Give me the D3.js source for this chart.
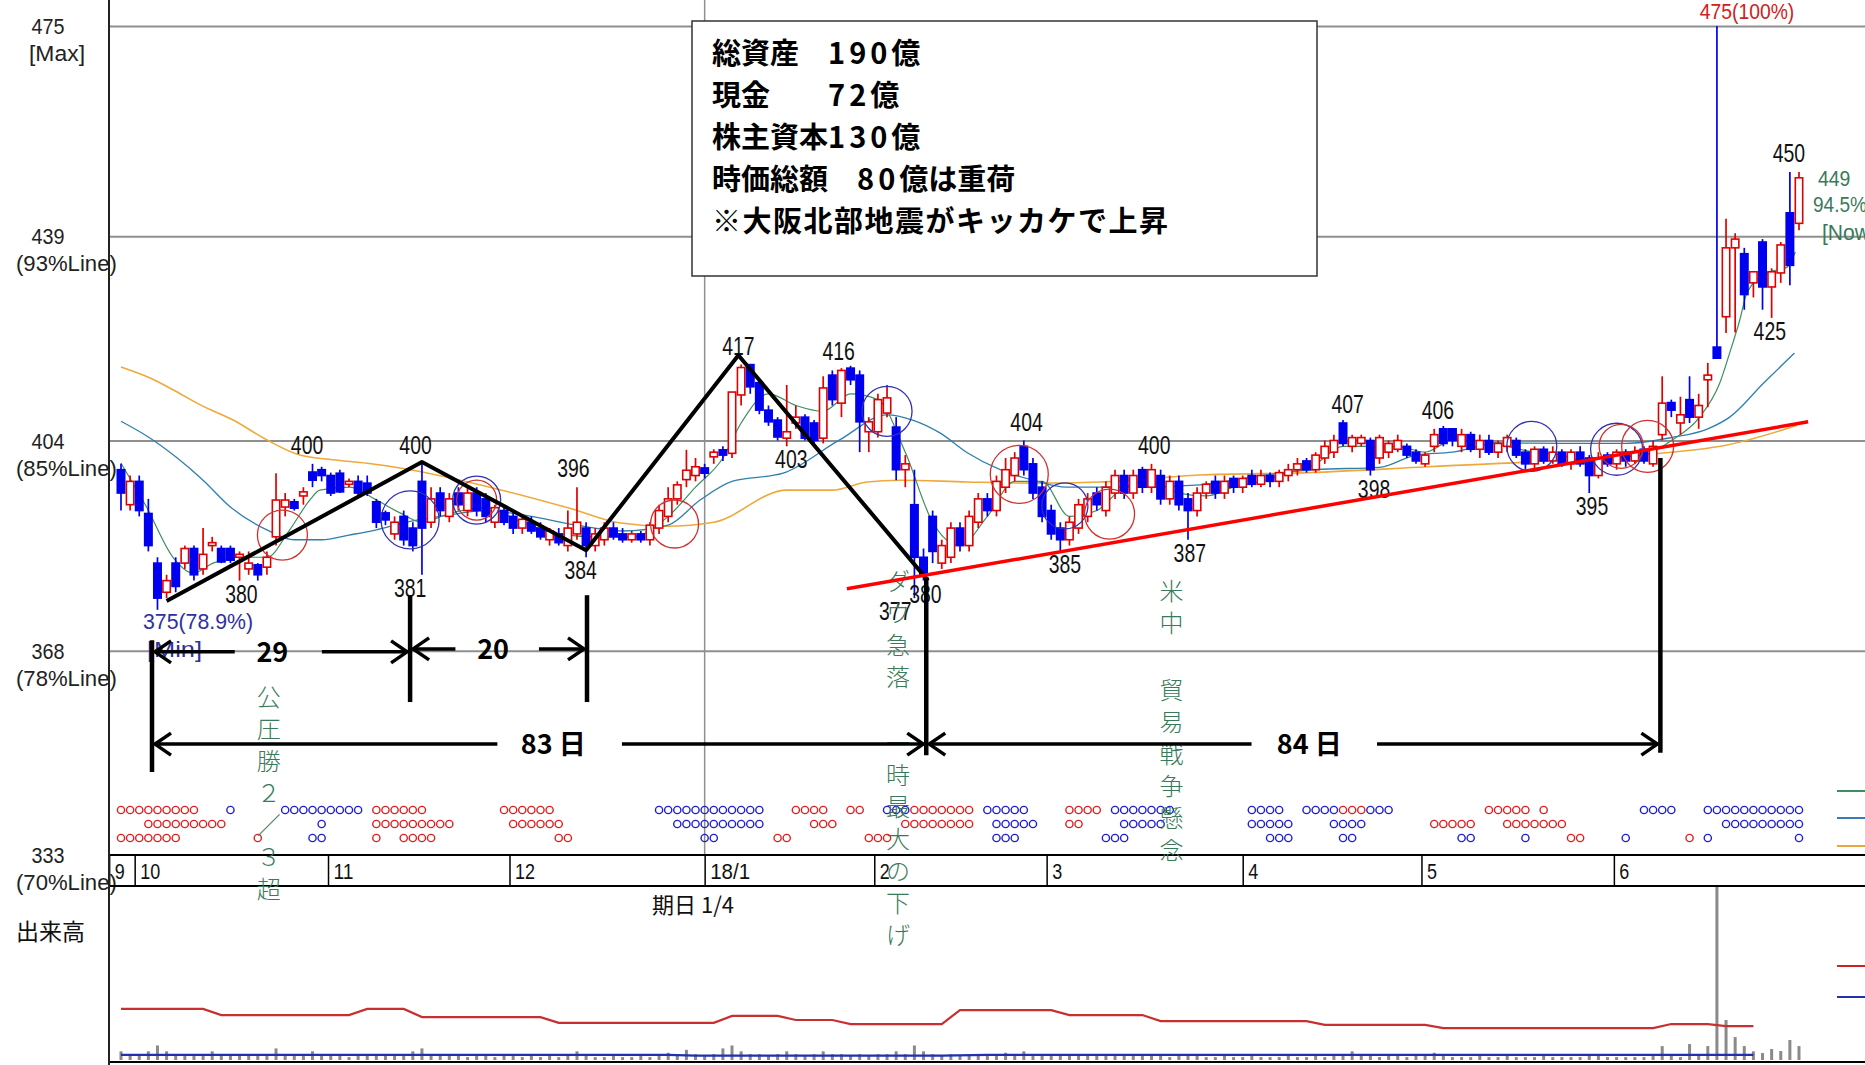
<!DOCTYPE html>
<html>
<head>
<meta charset="utf-8">
<script src="https://cdn.jsdelivr.net/npm/d3@7"></script>
<style>
  body { margin: 0; background: #fff; }
  text { font-family: "Liberation Sans", "DejaVu Sans", sans-serif; }
  .jp { font-family: "Noto Sans CJK JP", sans-serif; }
</style>
</head>
<body>
<svg id="chart" width="1865" height="1065"></svg>
<script>
// ---- データ (日足: 2017/9末 〜 2018/6末) ----
const dayOpen = [
  399,393,397,391.5,383,378,383,383,385.5,382,
  386,385.5,385.5,384,382,382.7,382.3,387.5,392.6,393.5,
  394.5,398.6,399,398,398.4,396.5,397,396.7,393.5,391.6,
  388,391,389,397,390,395,391,395,392,395,
  394,390,392,391,389,390,389,387,388,386,
  388,389,386,387,389,388,387,388,387,389,
  391,394,397.3,398,399.3,401.2,402.4,401.8,411.8,417,
  413.9,409.2,407.5,404.4,407,408,407,404.4,415.2,410.4,
  416.4,415.2,405.5,405.5,408.7,406.3,399,393,384,391,
  383,384,389,386,390,394,392,396,398,403,
  400,396,392,389,387,389,391,395,392,395,
  398,395,399,396,398,394,397,394,392,395,
  397,395,397.5,396,398,396.5,398,397,398,399,
  400.5,399,401,402,407,403,403.5,404,401,402,
  402.5,403,402,400,403,406,406,403,405,402.5,
  404,402,403,404,402,400,402.5,400.5,402,400,
  402,401,398,401.5,400,402,400.5,402.5,400,405,
  410.5,407,411,408,414.4,420,425.2,437,436,431,
  438,430.3,432.7,443,441.2
];
const dayHigh = [
  400,398,398,394,384,381,384,386,386,389,
  387.5,386,386,385,385,383,385,398.4,395,394,
  396,400,399.5,398.5,399,397.5,398,398,394,392,
  391,392,390,400,396,396,395,396,396,396,
  395,393,393,392,391,391,390,389,389,392,
  396,390,389,390,390,389,388.5,388.5,390,393,
  396,397,402.4,401,400,402.5,403,412.3,417,417,
  414.5,410,408,413.5,410,408.5,407.5,415,416,416.4,
  416.8,416,408,412,413.5,408,401.5,399,385.5,392,
  387,390,390,392,395,395,398,401,402,404,
  401,397,393,390,391,394,395,396,397,399,
  399,399,399.5,400,399,398,398,395,396,397,
  398,398,398,398,399,399,398.5,399,400,401,
  401,402,404,405,407.5,405,405,404.5,405,404,
  405,403.5,402.5,402,406,406.5,406,406,405.5,405,
  405,404,405,404.5,402.5,403,403,403,402.5,402.5,
  403,401.5,402,402,402.5,402.5,403,403,404,415,
  411,411.5,415,412,417.3,475,442,439.5,437,433,
  438.5,433.5,438,450,450
];
const dayLow = [
  392,392,391,385,375,377,378,382,380,381,
  385,383,383,380,381,380,381,386,391,392,
  393,396,397,394.5,395,396,394.5,394.5,389,389.5,
  387,386,385,381,389,391,390,392,391,391,
  390,389,389.5,388,388,388,387,386,386,385,
  387,384,385,386,387,386.5,386.5,386.5,386,388,
  390,393,396,397,397.5,400,400.5,401,410,412,
  408.5,406.5,404,403,406,404,403,403.5,410,408,
  413.5,402,402,404.5,408,397.2,396,377,380,383,
  382,383,385,385,389,391,391,395,397,398,
  394,390,387,385,386,388,390,392,391,394,
  394,394,395,395,393,393,392,387,391,394,
  394,394,395,395,396,396,396,396,397,398,
  398.5,398.5,400,401,403,402,403,398,400,401,
  402,401,400,399.5,402,403,403,402,402,401,
  401.5,401,402,401,399,399,400,400,399.5,399,
  399.5,395,397.5,399.5,399,399.5,400,400,399.5,404,
  408,405,407,406,409.7,418,422.4,422.5,426.4,428.5,
  426.4,425,431,430.6,440
];
const dayClose = [
  395,397,392,386,377,380,379,385.5,381,384.5,
  386.5,383.2,383.5,384.5,383,381,384,393.8,393.8,392.4,
  395.2,397.2,398,395,395.2,397,395,395,390,390.4,
  390,387,386,389,394,392,394,393,395,392,
  391,392.5,390,389,390.5,388.5,387.5,388.5,386.5,389,
  390,386,388,389,387.5,387,388,387,389.5,392,
  394,396.4,398.9,399.5,398.4,402,401.5,412.3,416.5,413.2,
  409.2,407.2,404.6,405.5,408,404.4,404,413,411,416,
  414.4,407.2,407.2,411,411.3,399,400,384,381,385,
  386,389,386,391,394,392,397,399,401,399,
  395,391,388,387,390,393,394,393,396,398,
  395,398,396,399,394,397,393,392,395,396.5,
  395,397,396,397.5,396.5,398,397,398.5,399,400,
  399,401.5,403,404,403.5,404.5,404.5,399,404.5,403.5,
  404,401.5,400.5,401.5,405,403.5,404,405,402.5,404,
  402,403.5,404.5,401.5,400,402.5,400.5,402,400,402,
  400,398,401,400,402,400.5,402,400.5,403,410.4,
  409.2,408.4,408,410,415.2,418.1,437,438.5,429,432.9,
  430.3,432.9,437.5,434,449
];
// 出来高 (千株)
const volume = [
  3,2,2,3,5,3,2,2,1.5,2,
  3,2,1.5,2,2,1.5,2,4,2,1.5,
  2,3,2,1.5,1.5,1,1.5,2,2,1.5,
  1.5,2,3,4,2,2,1.5,1.5,1,1.5,
  1.5,1,1.5,1.5,1,1.5,1,1.5,1,2,
  3,1.5,1,1,1.5,1,1,1.5,1,2,
  2.5,2,3.5,2,1.5,2,4,5,3,2,
  2,1.5,2,3,2,1.5,2,3,2,2,
  1.5,2,1.5,2,2,3,2,5,3,2,
  1.5,2,1.5,1.5,2,1.5,2,2.5,2,3,
  2,1.5,2,2,1.5,1.5,2,1.5,2,2,
  1.5,1.5,2,1.5,1.5,1,1.5,2,1.5,1,
  1,1.5,1,1,1.5,1,1,1,1.5,1,
  1,1.5,1,2,2,3,2,1.5,1,1.5,
  1.5,1,1.5,2,2.5,1.5,1,1,1,1.5,
  1,1,1.5,1,1,1,1.5,1,1,1,
  1,2,1.5,1,1,1,1,1,1.5,4.8,
  1.5,1,5.5,2,4.8,70,13.8,7.9,4.8,3,
  2.4,3.8,3.1,6.9,4.8
];
// 出来高の線 (赤・青)
const volRedIdx = [0,9,11,25,27,31,33,46,48,65,67,72,74,78,80,90,92,102,104,112,114,130,132,143,145,168,170,174,176,179];
const volRedVal = [17.6,17.6,15.5,15.5,17.6,17.6,14.8,14.8,12.8,12.8,15.2,15.2,13.8,13.8,12.4,12.4,17.2,17.2,15.5,15.5,13.4,13.4,12.1,12.1,11,11,12.4,12.4,11.7,11.7];
const volBlueIdx = [0,60,63,90,95,179];
const volBlueVal = [1.8,1.8,1.5,1.5,1.8,1.8];

// 移動平均 (画面から読み取り)
const ma5Idx = [0,2.8,5.7,7.9,10.1,13,16,18.5,20.7,21.8,25.1,28,30.6,33,36,40,44,48,52,56,60,63,66,68,71,74,77,80,83,86,89,92,95,98,101,104,107,110,113,116,119,122,125,128,131,134,137,140,143,146,149,152,155,158,161,164,167,170,173.1,175.3,176.4,177.5,178.3,180.5,182.7,183.6];
const ma5Val = [400.1,392.6,384,381.3,383,384,384,388.7,393.8,395.5,396,393.8,391.6,390,391.5,392.5,390,388,387.5,387.5,391,396,401,407,412,410,409,412,411,402,390,386,391,397,397,391,392,396,397,395,394.5,396,397,398.5,400,403,403,403,402,404,404,403,402,401.5,400,401,401.5,404,408,413.8,419,424.6,429.3,432.7,433.7,436.3];
const ma25Idx = [0,3,6,9,12,16,19,22,25,28,31,35,40,45,50,55,60,63.5,67,72.6,78.8,84,86.8,89.8,92.8,96.4,100,103.7,111,118.3,125,131,138,142,146,151,158,165,170,174,176.4,180.1,183.5];
const ma25Val = [407.3,404.6,401.2,397.2,392.6,388.7,387,387,387.8,388.7,389.9,391,392,391,389.5,388.5,389.5,393.8,397,398.4,404.1,408.4,407.5,405.3,401.9,399,397.2,396,396,396.4,398,399,399.4,401.5,402,403.6,403.5,403.5,404.5,406,408,413.8,419];
const ma75Idx = [0,3.2,5.7,8.7,12.3,16,19.6,23.2,27,30.6,42,49.4,54.6,59.8,65,73,78,81.8,85.4,92.8,100,107.3,118.3,130.3,143.3,156.4,169.4,176,183.8];
const ma75Val = [416.6,414.7,412.7,410.1,407.5,404.1,401.5,400.7,400.1,399.3,395.4,392.3,389.9,389.3,390,395.5,395.5,396.9,397.2,396.9,396.7,396.9,398.1,398.5,399.5,400.5,401.9,403.2,406.6];

// 価格ライン・月
const priceLevels = [333, 368, 404, 439, 475];
const levelNotes = ["(70%Line)", "(78%Line)", "(85%Line)", "(93%Line)", "[Max]"];
const monthStart = [-1.3, 1.5, 22.7, 42.6, 64.0, 82.6, 101.5, 123, 142.6, 163.7];
const monthLabel = ["9", "10", "11", "12", "18/1", "2", "3", "4", "5", "6"];

// 高値・安値ラベル
const peakText = ["400","380","400","381","396","384","417","416","403","377","380","404","385","400","387","407","398","406","395","450","425"];
const peakIdx  = [20.4,13.2,32.3,31.7,49.6,50.4,67.7,78.7,73.5,84.9,88.2,99.3,103.5,113.3,117.2,134.5,137.4,144.4,161.3,182.9,180.8];
const peakPrice= [400,380,400,381,396,384,417,416,403,377,380,404,385,400,387,407,398,406,395,450,425];
const peakSide = ["h","l","h","l","h","l","h","h","l","l","l","h","l","h","l","h","l","h","l","h","l"];

// シグナル (3段の丸印) [開始, 終了, 色]
const dotRow1 = [[0,8,"r"],[12,12,"b"],[18,26,"b"],[28,33,"r"],[42,47,"r"],[59,70,"b"],[74,77,"r"],[80,81,"r"],[84,86,"b"],[87,93,"r"],[95,99,"b"],[104,107,"r"],[109,115,"b"],[124,127,"b"],[130,133,"b"],[134,136,"r"],[137,139,"b"],[150,154,"r"],[156,156,"r"],[167,170,"b"],[174,184,"b"]];
const dotRow2 = [[3,11,"r"],[22,22,"b"],[28,36,"r"],[43,48,"r"],[61,70,"b"],[76,78,"r"],[86,93,"r"],[96,100,"b"],[104,105,"r"],[110,114,"b"],[124,128,"b"],[133,136,"b"],[144,148,"r"],[152,158,"r"],[176,184,"b"]];
const dotRow3 = [[0,6,"r"],[15,15,"r"],[21,22,"b"],[28,28,"r"],[31,34,"r"],[48,49,"r"],[64,65,"b"],[72,73,"r"],[82,84,"r"],[96,98,"b"],[108,110,"b"],[126,128,"b"],[134,135,"b"],[147,148,"b"],[154,154,"b"],[159,160,"r"],[165,165,"b"],[172,172,"r"],[174,174,"b"],[184,184,"b"]];

// 円 (日, 価格, 色, 半径)
const ringIdx   = [17.7,31.7,39,39,60.7,84,98.5,103.5,108.4,154.7,164,164.5,167.4];
const ringPrice = [387.8,390.4,393.8,393.8,389.7,409,398.2,392.8,391.4,403,402.5,403,403];
const ringColor = ["r","b","b","r","r","b","r","b","r","b","b","r","r"];
const ringR     = [25,29,24,20,24,25,29,23,25,25,26,22,26];

// 手書きの線
const zigzag = [[5,376.5],[33,400.3],[51,385.2],[67.7,418.6],[88.5,380]];
const trend = [[79.6,378.6],[185,407.2]];
const markIdx = [3.4, 31.7, 51.1, 88.3, 168.8];
const markTop = [369.8, 377.5, 377.5, 380.6, 401];
const markBot = [347.2, 359.2, 359.2, 350.1, 350.5];
const spans = [
  {from: 3.4, to: 31.7, p: 367.8, label: "29", gap: [12.8, 21.7], at: 16.6},
  {from: 31.7, to: 51.1, p: 368.3, label: "20", gap: [37.0, 45.5], at: 40.8},
  {from: 3.4, to: 88.3, p: 352, label: "83 日", gap: [41.6, 54.6], at: 47.4},
  {from: 88.3, to: 168.8, p: 352, label: "84 日", gap: [124.3, 137.4], at: 130.3}
];
// メモ: [文字, 数字, 後ろの文字]
const memoHead = ["総資産　", "現金　　", "株主資本", "時価総額　", "※大阪北部地震がキッカケで上昇"];
const memoNum  = ["190", "72", "130", "80", ""];
const memoTail = ["億", "億", "億", "億は重荷", ""];
const events = [
  {chars: "公圧勝２／３超", i: 16.2, p: 360.0},
  {chars: "ダウ急落", i: 85.2, p: 379.9},
  {chars: "一時最大の下げ", i: 85.2, p: 352.2},
  {chars: "米中", i: 115.2, p: 378.2},
  {chars: "貿易戦争懸念", i: 115.2, p: 361.3}
];

// ---- 描画 ----
const W = 1865, H = 1065, left = 109;
const svg = d3.select("#chart");
const x = d3.scaleLinear().domain([0, 184]).range([121, 1799]);
const y = d3.scaleLinear().domain([333, 475]).range([855, 26]);
const yv = d3.scaleLinear().domain([0, 60]).range([1060, 886]);
const RED = "#e00000", BLUE = "#0000f0";

function narrow(sel, cw) {
  sel.each(function () {
    const t = d3.select(this);
    t.attr("textLength", t.text().length * cw).attr("lengthAdjust", "spacingAndGlyphs");
  });
}

// 横の罫線
svg.append("g")
  .attr("transform", `translate(${left},0)`)
  .call(d3.axisRight(y).tickValues(priceLevels.slice(1)).tickSize(W - left).tickFormat(""))
  .call(g => g.select(".domain").remove())
  .selectAll("line").attr("stroke", "#8f8f8f").attr("stroke-width", 2);

// 年の区切り
svg.append("line")
  .attr("x1", x(monthStart[4])).attr("x2", x(monthStart[4]))
  .attr("y1", 0).attr("y2", 855)
  .attr("stroke", "#8f8f8f").attr("stroke-width", 1.5);

// 左の目盛ラベル
priceLevels.forEach((v, k) => {
  svg.append("text").attr("x", 48).attr("y", y(v) + 8)
    .attr("text-anchor", "middle").attr("font-size", 22).attr("fill", "#222")
    .text(v).call(narrow, 11);
  svg.append("text").attr("x", v === 475 ? 29 : 16).attr("y", y(v) + 35)
    .attr("font-size", 22).attr("fill", "#222")
    .text(levelNotes[k]).call(narrow, 11.2);
});

// 移動平均線
const line = d3.line().x(d => x(d[0])).y(d => y(d[1])).curve(d3.curveMonotoneX);
[[ma75Idx, ma75Val, "#eea93a", 1.6], [ma25Idx, ma25Val, "#2f7fae", 1.3], [ma5Idx, ma5Val, "#3d8f5f", 1.2]]
  .forEach(([ix, vs, c, w]) => {
    svg.append("path").datum(ix.map((d, k) => [d, vs[k]]))
      .attr("fill", "none").attr("stroke", c).attr("stroke-width", w).attr("d", line);
  });

// ローソク足
const candles = svg.append("g").selectAll("g").data(dayOpen.map((o, i) => ({
  i, o, h: dayHigh[i], l: dayLow[i], c: dayClose[i]
}))).join("g");
candles.append("line")
  .attr("x1", d => x(d.i)).attr("x2", d => x(d.i))
  .attr("y1", d => y(d.h)).attr("y2", d => y(d.l))
  .attr("stroke", d => d.c >= d.o ? RED : BLUE).attr("stroke-width", 1.7);
candles.append("rect")
  .attr("x", d => x(d.i) - 3.7).attr("width", 7.4)
  .attr("y", d => y(Math.max(d.o, d.c)))
  .attr("height", d => Math.max(1.5, Math.abs(y(d.o) - y(d.c))))
  .attr("fill", d => d.c >= d.o ? "#fff" : BLUE)
  .attr("stroke", d => d.c >= d.o ? RED : BLUE).attr("stroke-width", 1.6);

// 円
svg.append("g").selectAll("circle").data(ringIdx.map((d, k) => k)).join("circle")
  .attr("cx", k => x(ringIdx[k])).attr("cy", k => y(ringPrice[k])).attr("r", k => ringR[k])
  .attr("fill", "none").attr("stroke", k => ringColor[k] === "r" ? "#d03030" : "#3030b0")
  .attr("stroke-width", 1.3);

// 高値・安値ラベル
peakText.forEach((t, k) => {
  svg.append("text")
    .attr("x", x(peakIdx[k])).attr("y", y(peakPrice[k]) + (peakSide[k] === "h" ? -10 : 22))
    .attr("text-anchor", "middle").attr("font-size", 25).attr("fill", "#111")
    .text(t).call(narrow, 10.8);
});
svg.append("text").attr("x", x(178.3)).attr("y", y(475) - 7).attr("text-anchor", "middle")
  .attr("font-size", 22).attr("fill", "#d02020").text("475(100%)").call(narrow, 10.5);
svg.append("text").attr("x", 143).attr("y", y(375) + 19).attr("font-size", 22)
  .attr("fill", "#3030a0").text("375(78.9%)").call(narrow, 11);
svg.append("text").attr("x", 147).attr("y", y(375) + 47).attr("font-size", 22)
  .attr("fill", "#3030a0").text("[Min]").call(narrow, 11);
[["449", 0], ["94.5%", 26], ["[Now]", 54]].forEach(([t, dy], k) => {
  svg.append("text").attr("x", k === 1 ? 1813 : (k === 0 ? 1818 : 1822))
    .attr("y", y(dayClose[184]) + 8 + dy).attr("font-size", 22).attr("fill", "#3a7a5a")
    .text(t).call(narrow, 10.8);
});

// シグナル丸印
[dotRow1, dotRow2, dotRow3].forEach((runs, r) => {
  const pts = [];
  runs.forEach(([a, b, c]) => { for (let i = a; i <= b; i++) pts.push({ i, c }); });
  svg.append("g").selectAll("circle").data(pts).join("circle")
    .attr("cx", d => x(d.i)).attr("cy", 810 + r * 14).attr("r", 3.6)
    .attr("fill", "none").attr("stroke", d => d.c === "r" ? "#e02020" : "#2020d0")
    .attr("stroke-width", 1.4);
});

// 凡例の線
[["#3d8f5f", 791], ["#3a7ab8", 818], ["#e8a840", 846], ["#cc2222", 966], ["#2233aa", 997]]
  .forEach(([c, yy]) => svg.append("line").attr("x1", 1837).attr("x2", W)
    .attr("y1", yy).attr("y2", yy).attr("stroke", c).attr("stroke-width", 2));

// 日付帯
const band = svg.append("g").attr("transform", "translate(0,855)")
  .call(d3.axisBottom(x).tickValues(monthStart).tickSize(31).tickFormat((d, k) => monthLabel[k]));
band.select(".domain").remove();
band.selectAll(".tick line").attr("stroke", "#000").attr("stroke-width", 1.5);
band.selectAll(".tick text").attr("x", 5).attr("y", 24).attr("dy", null)
  .attr("text-anchor", "start").attr("font-size", 22).attr("fill", "#111")
  .style("font-family", "Liberation Sans, sans-serif")
  .each(function () { d3.select(this).call(narrow, 10); });
[855, 886].forEach(yy => svg.append("line").attr("x1", left).attr("x2", W)
  .attr("y1", yy).attr("y2", yy).attr("stroke", "#000").attr("stroke-width", 2.2));

// 出来高
const volG = svg.append("g");
volG.selectAll("rect").data(volume).join("rect")
  .attr("x", (d, i) => x(i) - 1.5).attr("width", 3)
  .attr("y", d => Math.max(887, yv(d))).attr("height", d => yv(0) - Math.max(887, yv(d)))
  .attr("fill", "#8a8a8a");
const vline = d3.line().x(d => x(d[0])).y(d => yv(d[1]));
svg.append("path").datum(volRedIdx.map((d, k) => [d, volRedVal[k]]))
  .attr("fill", "none").attr("stroke", "#c83030").attr("stroke-width", 2.2).attr("d", vline);
svg.append("path").datum(volBlueIdx.map((d, k) => [d, volBlueVal[k]]))
  .attr("fill", "none").attr("stroke", "#2030b0").attr("stroke-width", 2.2).attr("d", vline);
svg.append("line").attr("x1", left).attr("x2", W).attr("y1", 1062).attr("y2", 1062)
  .attr("stroke", "#000").attr("stroke-width", 2);
svg.append("text").attr("x", 16).attr("y", 940).attr("class", "jp")
  .attr("font-size", 23).attr("fill", "#111").text("出来高");
svg.append("text").attr("x", 652).attr("y", 913).attr("class", "jp")
  .attr("font-size", 22).attr("fill", "#111").text("期日 1/4");

// 左軸
svg.append("line").attr("x1", left).attr("x2", left).attr("y1", 0).attr("y2", H)
  .attr("stroke", "#222").attr("stroke-width", 2);

// 出来事 (縦書き)
events.forEach(ev => {
  [...ev.chars].forEach((ch, k) => {
    svg.append("text").attr("class", "jp")
      .attr("x", x(ev.i)).attr("y", y(ev.p) + 9 + k * 32)
      .attr("text-anchor", "middle").attr("font-size", 24).attr("font-weight", 300)
      .attr("fill", "#3a7a5a").text(ch);
  });
});

// 手書きの線
const pline = d3.line().x(d => x(d[0])).y(d => y(d[1]));
svg.append("path").datum(zigzag).attr("d", pline).attr("fill", "none")
  .attr("stroke", "#000").attr("stroke-width", 4).attr("stroke-linejoin", "round");
svg.append("path").datum(trend).attr("d", pline).attr("fill", "none")
  .attr("stroke", "#ff0000").attr("stroke-width", 3.5);
markIdx.forEach((m, k) => {
  svg.append("line").attr("x1", x(m)).attr("x2", x(m))
    .attr("y1", y(markTop[k])).attr("y2", y(markBot[k]))
    .attr("stroke", "#000").attr("stroke-width", 4.5);
});
spans.forEach(s => {
  const yy = y(s.p);
  [[s.from, s.gap[0]], [s.gap[1], s.to]].forEach(([a, b]) => {
    svg.append("line").attr("x1", x(a) + 3).attr("x2", x(b) - 3).attr("y1", yy).attr("y2", yy)
      .attr("stroke", "#000").attr("stroke-width", 3.5);
  });
  // 矢じり
  [[s.from, 1], [s.to, -1]].forEach(([a, dir]) => {
    const ax = x(a) + dir * 3;
    svg.append("path")
      .attr("d", `M${ax + dir * 16},${yy - 11}L${ax},${yy}L${ax + dir * 16},${yy + 11}`)
      .attr("fill", "none").attr("stroke", "#000").attr("stroke-width", 3.5);
  });
  svg.append("text").attr("class", "jp").attr("x", x(s.at)).attr("y", yy + 10)
    .attr("text-anchor", "middle").attr("font-size", 27).attr("font-weight", "bold")
    .attr("fill", "#000").text(s.label);
});

// メモ
svg.append("rect").attr("x", 692).attr("y", 21).attr("width", 625).attr("height", 255)
  .attr("fill", "#fff").attr("stroke", "#333").attr("stroke-width", 1.5);
memoHead.forEach((t, k) => {
  const tx = svg.append("text").attr("class", "jp").attr("x", 712).attr("y", 64 + k * 42)
    .attr("font-size", 29).attr("font-weight", "bold").attr("fill", "#000");
  tx.append("tspan").attr("letter-spacing", k === 4 ? 1.5 : 0).text(t);
  if (memoNum[k]) {
    tx.append("tspan").attr("letter-spacing", 4).text(memoNum[k]);
    tx.append("tspan").text(memoTail[k]);
  }
});
</script>
</body>
</html>
